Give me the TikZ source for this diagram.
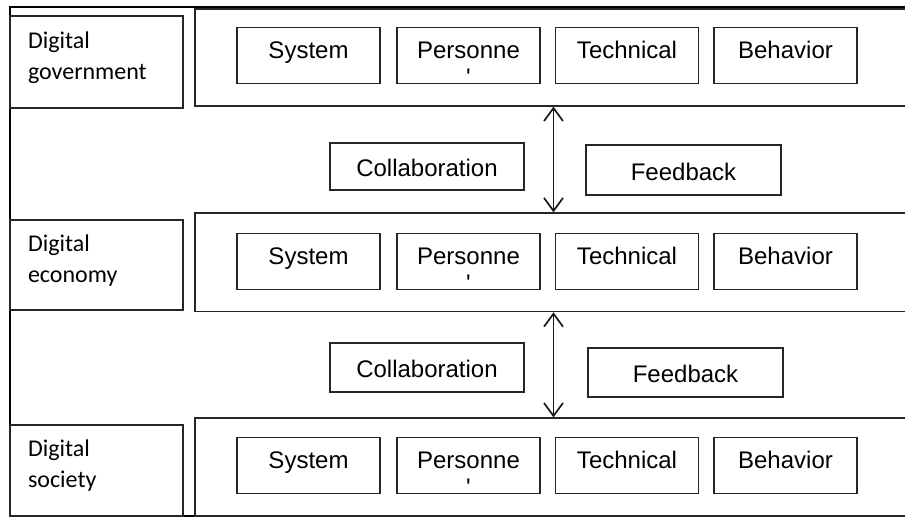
\documentclass[tikz,border=0pt]{standalone}
\usepackage{fontspec}
\setmainfont{Liberation Sans}
\newfontfamily\labfont{Carlito}
\usetikzlibrary{arrows.meta}
\newcommand\labtxt[2]{\makebox[137pt][l]{\labfont\fontsize{24}{31}\selectfont\begin{tabular}[t]{@{}l@{}}#1\\#2\end{tabular}}}
\tikzset{
  boxline/.style={draw=black!85},
  labelbox/.style={boxline, line width=1.3pt, rectangle, inner sep=0pt, minimum width=173pt, text height=2pt, text depth=30pt},
  rowbox/.style={boxline, line width=1.2pt, rectangle, inner sep=0pt, minimum width=720pt},
  itembox/.style={boxline, line width=1.4pt, rectangle, inner sep=0pt, minimum width=143pt, minimum height=56pt, text height=18pt, text depth=12pt, font=\fontsize{24}{28}\selectfont},
  linkbox/.style={boxline, line width=1.4pt, rectangle, inner sep=0pt, minimum width=195pt, text height=20pt, text depth=0pt, font=\fontsize{24}{28}\selectfont},
  twoway/.style={line width=1.7pt, black!90, {Straight Barb[length=13pt,width=19pt,line width=1.7pt]}-{Straight Barb[length=13pt,width=19pt,line width=1.7pt]}}
}
\newcommand\persontxt{\begin{tabular}[t]{@{}c@{}}Personne\\[-1pt]\textquotesingle\end{tabular}}
\begin{document}
\begin{tikzpicture}[x=1pt,y=-1pt]
\clip (0,0) rectangle (905,517);
\fill[white] (0,0) rectangle (905,517);
% outer frame
\draw[line width=2.5pt, black] (10,7) rectangle (930,516);
% left labels
\node[labelbox, minimum height=92pt] (lgov) at (96.5,62) {\labtxt{Digital}{government}};
\node[labelbox, minimum height=90pt] (leco) at (96.5,265) {\labtxt{Digital}{economy}};
\node[labelbox, minimum height=91pt] (lsoc) at (96.5,470.5) {\labtxt{Digital}{society}};
% row boxes
\node[rowbox, minimum height=97pt] (rgov) at (555,57.5) {};
\node[rowbox, minimum height=98.7pt] (reco) at (555,262.3) {};
\node[rowbox, minimum height=98pt] (rsoc) at (555,467) {};
% items
\foreach \r/\y in {gov/55.5, eco/261.5, soc/465.5}{
  \node[itembox] (sys\r) at (308.5,\y) {System};
  \node[itembox] (per\r) at (468.5,\y) {\persontxt};
  \node[itembox] (tec\r) at (627,\y) {Technical};
  \node[itembox] (beh\r) at (785.5,\y) {Behavior};
}
% links
\node[linkbox, minimum width=194pt, minimum height=47pt] (colA) at (427,166.5) {Collaboration};
\node[linkbox, minimum height=50pt] (feedA) at (683.5,170) {Feedback};
\node[linkbox, minimum width=194pt, minimum height=49pt] (colB) at (427,367.5) {Collaboration};
\node[linkbox, minimum height=49pt] (feedB) at (685.5,372.5) {Feedback};
% arrows
\coordinate (ax) at (553.5,0);
\draw[twoway] (rgov.south -| ax) -- (reco.north -| ax);
\draw[twoway] (reco.south -| ax) -- (rsoc.north -| ax);
\end{tikzpicture}
\end{document}
